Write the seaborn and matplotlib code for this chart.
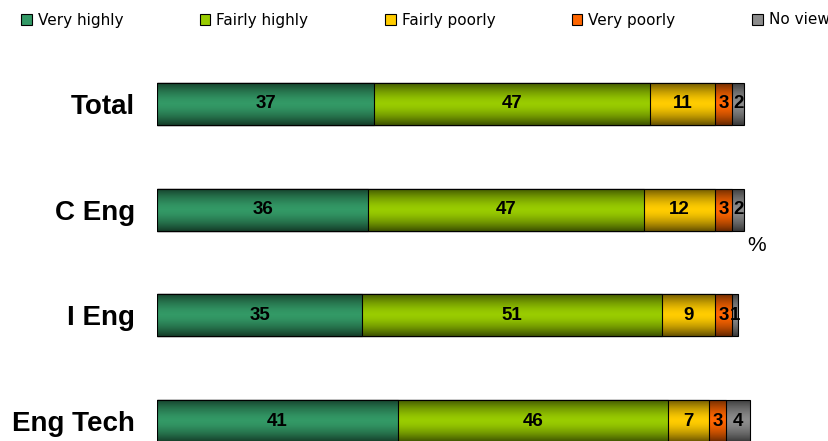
import numpy as np
import pandas as pd
import matplotlib
matplotlib.use("Agg")
import matplotlib.pyplot as plt
import seaborn as sns
from matplotlib.patches import Patch

categories = ["Total", "C Eng", "I Eng", "Eng Tech"]
series = ["Very highly", "Fairly highly", "Fairly poorly", "Very poorly", "No view"]
very_highly = [37, 36, 35, 41]
fairly_highly = [47, 47, 51, 46]
fairly_poorly = [11, 12, 9, 7]
very_poorly = [3, 3, 3, 3]
no_view = [2, 2, 1, 4]
colors = ["#339966", "#99CC00", "#FFCC00", "#FF6600", "#8C8C8C"]

sns.set_theme(style="white")
plt.rcParams['font.family'] = ['Liberation Sans', 'DejaVu Sans']

vals = np.array([very_highly, fairly_highly, fairly_poorly, very_poorly, no_view], dtype=float)
cum = np.cumsum(vals, axis=0)

df = pd.DataFrame({"category": categories})
for i, s in enumerate(series):
    df[s] = cum[i]

fig = plt.figure(figsize=(8.29, 4.41), dpi=100)
ax = fig.add_axes([157/829, 0, 645.7/829, 1])

# draw cumulative bars from the largest to smallest so each visible segment is one series
for i in range(len(series) - 1, -1, -1):
    sns.barplot(data=df, y="category", x=series[i], color=colors[i], orient="y",
                width=0.4, edgecolor="black", linewidth=0.8, saturation=1, ax=ax)

# vertical shading gradient on each full bar
grad = np.abs(np.linspace(-1, 1, 64)) ** 1.6
rgba = np.zeros((64, 2, 4))
rgba[..., 3] = (grad * 0.6)[:, None]
full_bars = ax.patches[:len(categories)]
for p in ax.patches:
    p.set_zorder(2)
for p in full_bars:
    x0, y0 = p.get_x(), p.get_y()
    w, h = p.get_width(), p.get_height()
    im = ax.imshow(rgba, extent=[x0, x0 + w, y0 + h, y0], aspect="auto",
                   interpolation="bilinear", zorder=3)
    im.set_clip_path(p)
ax.set_xlim(0, 110)
ax.set_ylim(3.189, -0.984)

for j in range(len(categories)):
    for i in range(len(series)):
        left = cum[i, j] - vals[i, j]
        ax.text(left + vals[i, j] / 2, j, f"{int(vals[i, j])}", ha="center", va="center",
                fontsize=13.5, fontweight="bold", color="black", zorder=5)

ax.set_xlabel("")
ax.set_ylabel("")
ax.set_xticks([])
ax.tick_params(axis="y", length=0, pad=16)
for lab in ax.get_yticklabels():
    lab.set_fontsize(20)
    lab.set_fontweight("bold")
    lab.set_color("black")
for s in ax.spines.values():
    s.set_visible(False)

fig.text(757/829, 1 - 246/441, "%", ha="center", va="center", fontsize=15, color="black")

handles = [Patch(facecolor=c, edgecolor="black", linewidth=0.8) for c in colors]
fig.legend(handles, series, loc="center", ncol=5, mode="expand",
           bbox_to_anchor=(0.018, 1 - 20/441 - 0.02, 0.99, 0.04), frameon=False,
           handlelength=0.7, handleheight=0.7, handletextpad=0.4,
           prop={"family": "DejaVu Sans", "size": 11}, labelcolor="black", borderaxespad=0)

fig.savefig("out.png", dpi=100, facecolor="white")
